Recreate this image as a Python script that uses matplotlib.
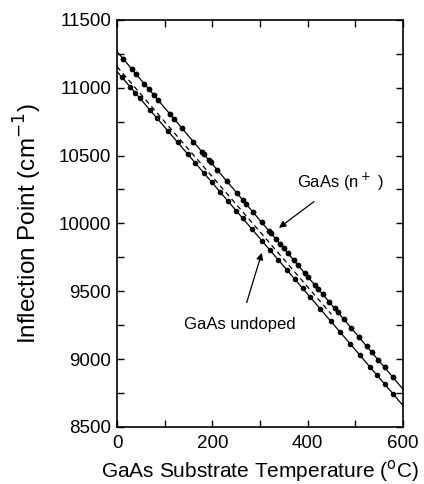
import matplotlib
matplotlib.use("Agg")
import matplotlib.pyplot as plt
from matplotlib.ticker import MultipleLocator

plt.rcParams['font.family'] = ['Liberation Sans', 'DejaVu Sans']

# GaAs (n+) measured points
n_T = [13, 31, 40, 57, 67, 78, 86, 111, 120, 136, 160, 178, 183, 193, 197, 210,
       231, 252, 264, 271, 285, 304, 319, 323, 334, 342, 350, 359, 371, 380,
       394, 401, 415, 422, 432, 445, 457, 463, 476, 491, 508, 524, 535, 548,
       562, 579]
n_val = [11212, 11138, 11100, 11030, 10988, 10943, 10910, 10806, 10769, 10703,
         10603, 10529, 10508, 10466, 10450, 10396, 10309, 10222, 10172, 10143,
         10085, 10007, 9944, 9928, 9882, 9849, 9816, 9779, 9729, 9692, 9634,
         9605, 9547, 9518, 9476, 9422, 9373, 9348, 9294, 9232, 9161, 9095,
         9049, 8996, 8938, 8867]

# GaAs undoped measured points
u_T = [10, 27, 38, 48, 69, 84, 107, 127, 149, 164, 183, 199, 216, 233, 250,
       264, 284, 304, 321, 338, 357, 373, 390, 405, 427, 449, 468, 489, 510,
       531, 545, 562, 579]
u_val = [11078, 11008, 10963, 10922, 10836, 10775, 10680, 10598, 10508, 10447,
         10369, 10303, 10233, 10164, 10094, 10037, 9955, 9873, 9803, 9733,
         9655, 9590, 9520, 9459, 9368, 9278, 9200, 9114, 9028, 8942, 8885,
         8815, 8745]

# linear fits (end points)
fit_T = [0, 620]
n_fit = [11266, 8697]
u_fit = [11119, 8577]
dash_T = [0, 450]
dash_val = [11155, 9330]

fig = plt.figure(figsize=(4.24, 4.84), dpi=100)
ax = fig.add_axes([0.276, 0.118, 0.674, 0.841])

ax.plot(fit_T, n_fit, color='black', lw=0.9)
ax.plot(fit_T, u_fit, color='black', lw=0.9)
ax.plot(dash_T, dash_val, color='black', lw=0.9, ls=(0, (4, 3)))
ax.plot(n_T, n_val, 'o', color='black', ms=4.2, mew=0)
ax.plot(u_T, u_val, 'o', color='black', ms=4.0, mew=0)

ax.set_xlim(0, 600)
ax.set_ylim(8500, 11500)
ax.xaxis.set_major_locator(MultipleLocator(200))
ax.xaxis.set_minor_locator(MultipleLocator(100))
ax.yaxis.set_major_locator(MultipleLocator(500))
ax.yaxis.set_minor_locator(MultipleLocator(250))
ax.tick_params(which='both', direction='in', top=True, right=True,
               length=5, width=1, labelsize=13.5)
ax.tick_params(axis='x', pad=6)
ax.tick_params(axis='y', pad=4)
for s in ax.spines.values():
    s.set_linewidth(1.2)

ax.set_xlabel('GaAs Substrate Temperature ($^{\\rm o}$C)', fontsize=15, labelpad=4)
ax.set_ylabel('Inflection Point (cm$^{-1}$)', fontsize=17.5, labelpad=11)

ax.annotate('GaAs (n$^+$ )', xy=(340, 9967), xytext=(469, 10306),
            ha='center', va='center', fontsize=12,
            arrowprops=dict(arrowstyle='-|>', color='black', lw=0.9,
                            shrinkA=7, shrinkB=0, mutation_scale=10))
ax.annotate('GaAs undoped', xy=(304, 9783), xytext=(258, 9252),
            ha='center', va='center', fontsize=12,
            arrowprops=dict(arrowstyle='-|>', color='black', lw=0.9,
                            shrinkA=9, shrinkB=0, mutation_scale=10))

fig.savefig('out.png', dpi=100)
